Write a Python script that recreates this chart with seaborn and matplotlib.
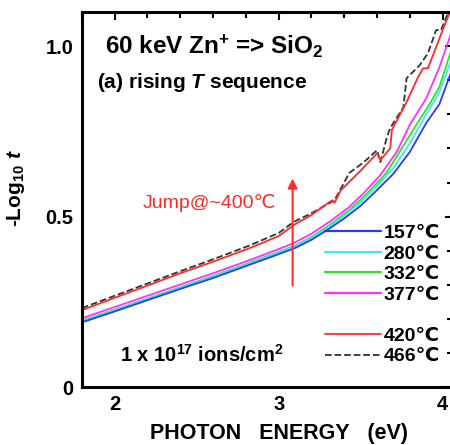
import matplotlib
matplotlib.use('Agg')
import matplotlib.pyplot as plt
import numpy as np
import pandas as pd
import seaborn as sns
from matplotlib.lines import Line2D
from matplotlib.ticker import MultipleLocator

# spectra (photon energy eV, -log10 t)
e_157 = [1.80, 2.00, 2.20, 2.40, 2.60, 2.80, 3.00, 3.10, 3.20, 3.30, 3.40, 3.50, 3.60, 3.70, 3.80, 3.90, 3.98, 4.06]
t_157 = [0.190, 0.222, 0.255, 0.288, 0.320, 0.355, 0.390, 0.408, 0.432, 0.462, 0.495, 0.532, 0.578, 0.626, 0.690, 0.775, 0.830, 0.935]
e_280 = [1.80, 2.00, 2.20, 2.40, 2.60, 2.80, 3.00, 3.10, 3.20, 3.30, 3.40, 3.50, 3.60, 3.70, 3.80, 3.90, 3.98, 4.06]
t_280 = [0.193, 0.225, 0.258, 0.291, 0.324, 0.359, 0.395, 0.413, 0.437, 0.468, 0.503, 0.542, 0.590, 0.643, 0.715, 0.800, 0.865, 0.970]
e_332 = [1.80, 2.00, 2.20, 2.40, 2.60, 2.80, 3.00, 3.10, 3.20, 3.30, 3.43, 3.50, 3.60, 3.66, 3.75, 3.84, 3.92, 3.98, 4.06]
t_332 = [0.195, 0.227, 0.260, 0.293, 0.326, 0.361, 0.397, 0.415, 0.440, 0.472, 0.519, 0.550, 0.598, 0.630, 0.700, 0.770, 0.830, 0.880, 1.000]
e_377 = [1.80, 2.00, 2.20, 2.40, 2.60, 2.82, 3.00, 3.09, 3.20, 3.31, 3.43, 3.52, 3.62, 3.72, 3.80, 3.90, 3.98, 4.06]
t_377 = [0.202, 0.235, 0.268, 0.301, 0.334, 0.372, 0.405, 0.422, 0.450, 0.485, 0.528, 0.570, 0.622, 0.690, 0.770, 0.847, 0.938, 1.050]
e_420 = [1.80, 2.00, 2.20, 2.40, 2.60, 2.82, 3.00, 3.09, 3.20, 3.31, 3.33, 3.34, 3.38, 3.50, 3.60, 3.62, 3.68, 3.69, 3.78, 3.85, 3.88, 3.91, 3.96, 4.00, 4.06]
t_420 = [0.226, 0.262, 0.298, 0.334, 0.368, 0.407, 0.443, 0.475, 0.505, 0.543, 0.548, 0.540, 0.578, 0.635, 0.686, 0.666, 0.700, 0.754, 0.836, 0.909, 0.935, 0.935, 0.997, 1.047, 1.120]
e_466 = [1.80, 2.00, 2.20, 2.40, 2.60, 2.82, 3.00, 3.09, 3.20, 3.34, 3.38, 3.43, 3.52, 3.60, 3.62, 3.66, 3.68, 3.76, 3.78, 3.86, 3.91, 3.96, 3.99, 4.06]
t_466 = [0.232, 0.268, 0.304, 0.340, 0.375, 0.415, 0.452, 0.484, 0.510, 0.548, 0.583, 0.628, 0.660, 0.695, 0.660, 0.733, 0.760, 0.820, 0.906, 0.944, 0.979, 1.047, 1.047, 1.130]

labels = ['157℃', '280℃', '332℃', '377℃', '420℃', '466℃']
colors = ['#2a3cf0', '#40e8f0', '#30e030', '#ff30ff', '#ff2a2a', '#333333']
styles = ['-', '-', '-', '-', '-', '--']

series = [(e_157, t_157), (e_280, t_280), (e_332, t_332),
          (e_377, t_377), (e_420, t_420), (e_466, t_466)]

sns.set_style('white')
plt.rcParams['font.family'] = ['Liberation Sans', 'DejaVu Sans']
plt.rcParams['font.weight'] = 'bold'
plt.rcParams['text.color'] = 'black'
plt.rcParams['axes.labelcolor'] = 'black'
plt.rcParams['xtick.color'] = 'black'
plt.rcParams['ytick.color'] = 'black'
plt.rcParams['mathtext.fontset'] = 'custom'
plt.rcParams['mathtext.rm'] = 'Liberation Sans:bold'
plt.rcParams['mathtext.it'] = 'Liberation Sans:bold:italic'
plt.rcParams['mathtext.bf'] = 'Liberation Sans:bold'

fig = plt.figure(figsize=(4.5, 4.45), dpi=100)
# right spine sits just past the picture edge, as in the original scan
ax = fig.add_axes([0.182, 0.130, 0.8236, 0.843])

# draw in reverse so the 157 curve sits on top like the original
for i in [5, 4, 3, 2, 1, 0]:
    x, y = series[i]
    df = pd.DataFrame({'E': x, 'A': y})
    sns.lineplot(data=df, x='E', y='A', color=colors[i], ls=styles[i],
                 lw=1.3, ax=ax, sort=False, legend=False)

ax.set_xlim(1.8, 4.06)
ax.set_ylim(0, 1.1)
ax.xaxis.set_major_locator(MultipleLocator(1))
ax.xaxis.set_minor_locator(MultipleLocator(0.2))
ax.yaxis.set_minor_locator(MultipleLocator(0.1))
ax.set_yticks([0, 0.5, 1.0])
ax.set_yticklabels(['0', '0.5', '1.0'])
ax.tick_params(which='both', direction='in', top=True, right=True, width=1.5)
ax.tick_params(which='major', length=6, labelsize=14.5, pad=6)
ax.tick_params(which='minor', length=4)
for lab in ax.get_xticklabels() + ax.get_yticklabels():
    lab.set_fontweight('bold')
for s in ax.spines.values():
    s.set_linewidth(2.2)
    s.set_color('black')

ax.set_xlabel('PHOTON   ENERGY   (eV)', fontsize=15.5, fontweight='bold')
ax.xaxis.set_label_coords(0.532, -0.095)
ax.set_ylabel(r'-Log$_{10}$ $t$', fontsize=15, fontweight='bold')
ax.yaxis.set_label_coords(-0.148, 0.53)

ax.text(1.94, 1.0, r'60 keV Zn$^{+}$ => SiO$_{2}$', fontsize=17.5, fontweight='bold',
        va='center', ha='left')
ax.text(1.89, 0.893, r'(a) rising $T$ sequence', fontsize=15, fontweight='bold',
        va='center', ha='left')
ax.text(2.03, 0.095, r'1 x 10$^{17}$ ions/cm$^{2}$', fontsize=14.5, fontweight='bold',
        va='center', ha='left')
ax.text(2.17, 0.54, 'Jump@~400℃', fontsize=14, fontweight='normal',
        color='#ff2a2a', va='center', ha='left')
ax.annotate('', xy=(3.085, 0.62), xytext=(3.085, 0.29),
            arrowprops=dict(arrowstyle='-|>', color='#ff2a2a', lw=1.5,
                            mutation_scale=14))

handles = []
for i in range(4):
    handles.append(Line2D([], [], color=colors[i], ls=styles[i], lw=1.6))
handles.append(Line2D([], [], color='none'))
for i in range(4, 6):
    handles.append(Line2D([], [], color=colors[i], ls=styles[i], lw=1.3))
leg_labels = labels[:4] + [''] + labels[4:]
leg = ax.legend(handles, leg_labels, loc='lower left', bbox_to_anchor=(0.656, 0.058),
                frameon=False, handlelength=2.9, handletextpad=0.1,
                labelspacing=0.15, borderaxespad=0, borderpad=0,
                prop={'weight': 'bold', 'size': 14})

fig.savefig('out.png', dpi=100)
